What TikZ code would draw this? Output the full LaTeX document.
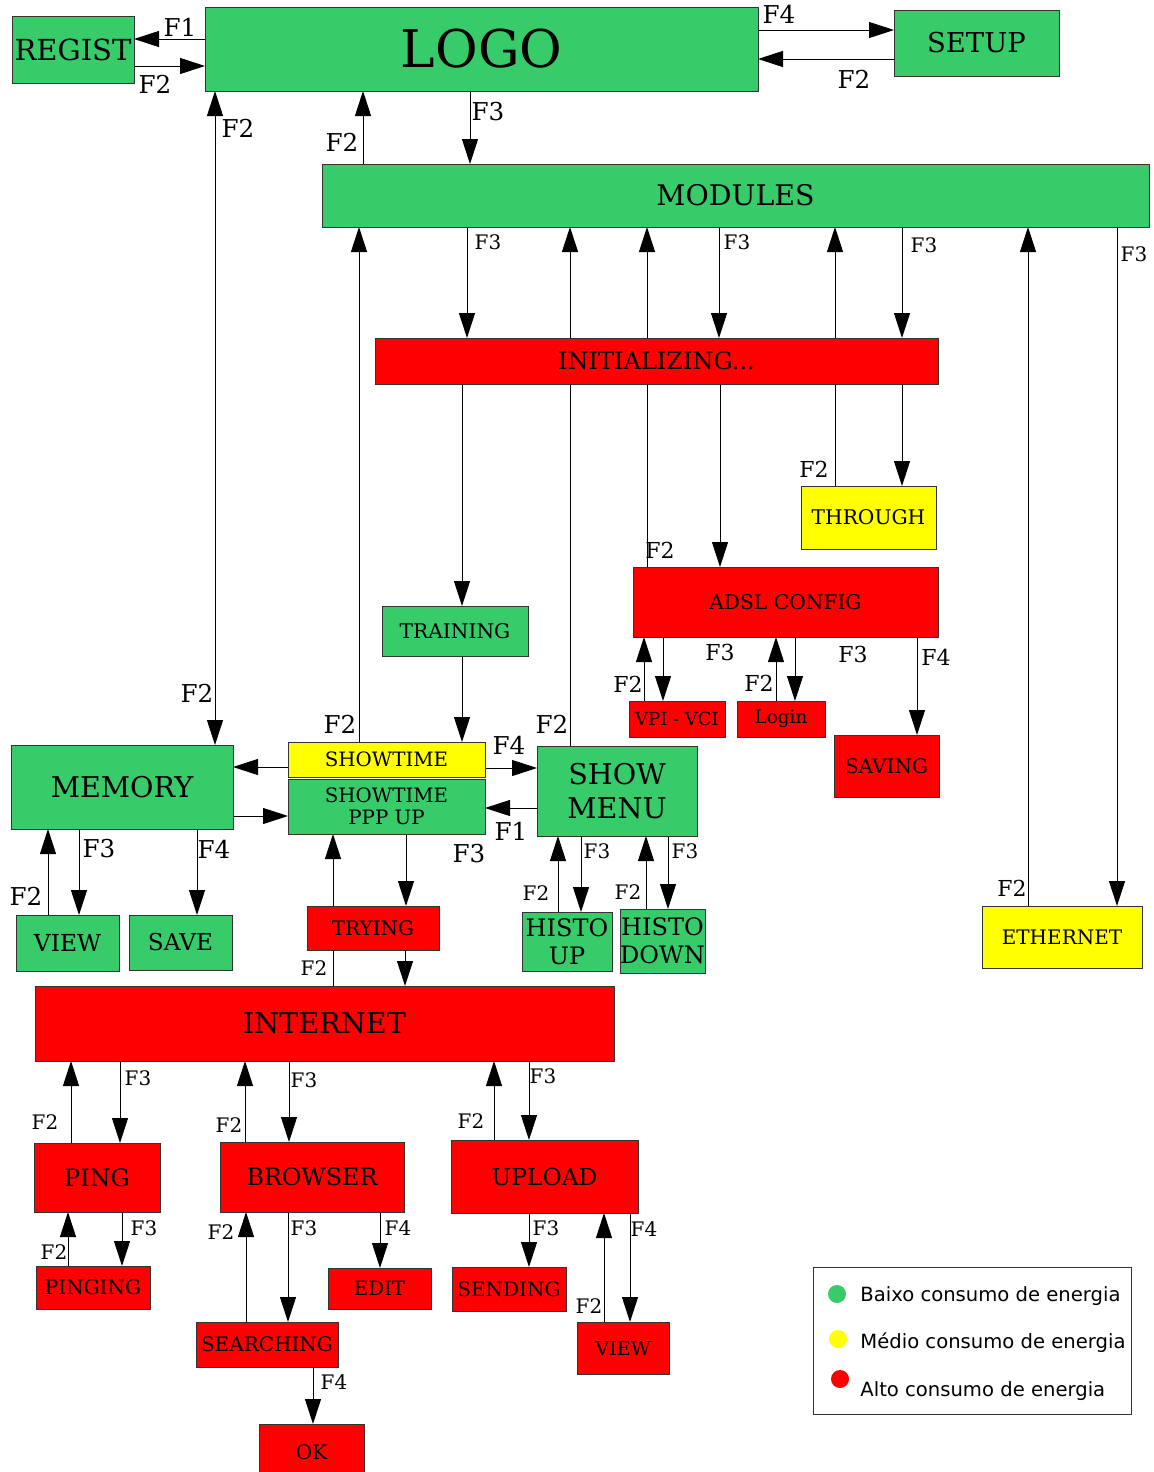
\documentclass[tikz,border=0pt]{standalone}
\usepackage{fontspec}
\setmainfont{DejaVu Serif}
\newfontfamily\legfont{DejaVu Sans}
\usetikzlibrary{arrows.meta,backgrounds}
\definecolor{gr}{RGB}{55,203,106}
\definecolor{yel}{RGB}{255,255,0}
\definecolor{rd}{RGB}{255,0,0}
\newcommand\fsz[1]{\fontsize{#1}{1.2\dimexpr #1pt\relax}\selectfont}
\newcommand\mkbox[7]{%
  \pgfmathsetmacro\bxw{(#4-#2)*0.5}%
  \pgfmathsetmacro\bxh{(#5-#3)*0.5}%
  \node[box,#6,minimum width=\bxw pt,minimum height=\bxh pt] (#1) at ({(#2+#4)/2},{(#3+#5)/2}) {#7};}
\begin{document}
\begin{tikzpicture}[x=0.5pt,y=-0.5pt,
  box/.style={draw=black!80,line width=0.5pt,inner sep=0pt,outer sep=0pt,align=center},
  g/.style={fill=gr}, yw/.style={fill=yel}, r/.style={fill=rd},
  arr/.style={-{Triangle[length=12.5pt,width=8pt]},line width=0.5pt},
  barr/.style={{Triangle[length=12.5pt,width=8pt]}-{Triangle[length=12.5pt,width=8pt]},line width=0.5pt},
  lb/.style={inner sep=0pt,font=\fsz{10}},
  lm/.style={inner sep=0pt,font=\fsz{11}},
  lg/.style={inner sep=0pt,font=\fsz{12.3}}]
\useasboundingbox (0,0) rectangle (1153,1472);
% nodes
\mkbox{REG}{12}{16}{134}{83}{g,font=\fsz{14.5}}{REGIST}
\mkbox{LOGO}{205}{7}{758}{91}{g,font=\fsz{26}}{LOGO}
\mkbox{SET}{894}{10}{1059}{76}{g,font=\fsz{13.7}}{SETUP}
\mkbox{MOD}{322}{164}{1149}{227}{g,font=\fsz{14.2}}{MODULES}
\mkbox{INIT}{375}{338}{938}{384}{r,font=\fsz{12}}{INITIALIZING...}
\mkbox{THR}{801}{486}{936}{549}{yw,font=\fsz{10.1}}{THROUGH}
\mkbox{ADSL}{633}{567}{938}{637}{r,font=\fsz{10.1}}{ADSL CONFIG}
\mkbox{VPI}{629}{701}{725}{737}{r,font=\fsz{9}}{VPI - VCI}
\mkbox{LOGIN}{737}{701}{825}{737}{r,font=\fsz{9.2}}{Login}
\mkbox{SAV}{834}{735}{939}{797}{r,font=\fsz{10}}{SAVING}
\mkbox{TRN}{382}{606}{528}{656}{g,font=\fsz{10.1}}{TRAINING}
\mkbox{ST}{288}{742}{485}{777}{yw,font=\fsz{9.9}}{SHOWTIME}
\mkbox{STP}{288}{779}{485}{834}{g,font=\fontsize{9.9}{11}\selectfont}{SHOWTIME\\PPP UP}
\mkbox{SM}{537}{746}{697}{836}{g,font=\fontsize{14.3}{17}\selectfont}{SHOW\\MENU}
\mkbox{MEM}{11}{745}{233}{829}{g,font=\fsz{14.3}}{MEMORY}
\mkbox{VWA}{16}{915}{119}{971}{g,font=\fsz{11.7}}{VIEW}
\mkbox{SV}{129}{915}{232}{970}{g,font=\fsz{11.6}}{SAVE}
\mkbox{TRY}{307}{906}{439}{950}{r,font=\fsz{10}}{TRYING}
\mkbox{HU}{522}{912}{612}{971}{g,font=\fontsize{12}{14}\selectfont}{HISTO\\UP}
\mkbox{HD}{620}{909}{705}{973}{g,font=\fontsize{12}{14}\selectfont}{HISTO\\DOWN}
\mkbox{ETH}{982}{906}{1142}{968}{yw,font=\fsz{10}}{ETHERNET}
\mkbox{NET}{35}{986}{614}{1061}{r,font=\fsz{14.3}}{INTERNET}
\mkbox{PING}{34}{1143}{160}{1212}{r,font=\fsz{12}}{PING}
\mkbox{BRW}{220}{1142}{404}{1212}{r,font=\fsz{11.9}}{BROWSER}
\mkbox{UPL}{451}{1140}{638}{1213}{r,font=\fsz{11.7}}{UPLOAD}
\mkbox{PGG}{36}{1266}{150}{1309}{r,font=\fsz{10}}{PINGING}
\mkbox{EDIT}{328}{1268}{431}{1309}{r,font=\fsz{9.9}}{EDIT}
\mkbox{SND}{452}{1267}{566}{1311}{r,font=\fsz{10}}{SENDING}
\mkbox{SRCH}{196}{1322}{338}{1367}{r,font=\fsz{10}}{SEARCHING}
\mkbox{VWB}{577}{1322}{669}{1374}{r,font=\fsz{9.6}}{VIEW}
\mkbox{OK}{259}{1424}{364}{1480}{r,font=\fsz{10}}{OK}
% legend
\mkbox{LEG}{813}{1267}{1131}{1414}{fill=white}{}
\node[circle,fill=gr,minimum size=9pt,inner sep=0pt] (c1) at (837,1294) {};
\node[circle,fill=yel,minimum size=9pt,inner sep=0pt] (c2) at (838,1339) {};
\node[circle,fill=rd,minimum size=9pt,inner sep=0pt] (c3) at (840,1379) {};
\node[anchor=west,inner sep=0pt,font=\legfont\fsz{9.8}] (t1) at (860,1296) {Baixo consumo de energia};
\node[anchor=west,inner sep=0pt,font=\legfont\fsz{9.8}] (t2) at (860,1343) {Médio consumo de energia};
\node[anchor=west,inner sep=0pt,font=\legfont\fsz{9.8}] (t3) at (860,1391) {Alto consumo de energia};
% labels
\node[lg] (l1) at (180,27) {F1};
\node[lg] (l2) at (155,84) {F2};
\node[lg] (l3) at (779,14) {F4};
\node[lg] (l4) at (854,79) {F2};
\node[lg] (l5) at (238,128) {F2};
\node[lg] (l6) at (342,142) {F2};
\node[lg] (l7) at (488,112) {F3};
\node[lb] (l8) at (488,242) {F3};
\node[lb] (l9) at (737,242) {F3};
\node[lb] (l10) at (924,245) {F3};
\node[lb] (l11) at (1134,254) {F3};
\node[lm] (l12) at (814,469) {F2};
\node[lm] (l13) at (660,550) {F2};
\node[lm] (l14) at (720,652) {F3};
\node[lm] (l15) at (853,654) {F3};
\node[lm] (l16) at (936,657) {F4};
\node[lm] (l17) at (628,684) {F2};
\node[lm] (l18) at (759,683) {F2};
\node[lg] (l19) at (197,693) {F2};
\node[lg] (l20) at (340,724) {F2};
\node[lg] (l21) at (552,724) {F2};
\node[lg] (l22) at (509,745) {F4};
\node[lg] (l23) at (511,831) {F1};
\node[lg] (l24) at (469,854) {F3};
\node[lg] (l25) at (99,849) {F3};
\node[lg] (l26) at (214,849) {F4};
\node[lg] (l27) at (26,896) {F2};
\node[lb] (l28) at (597,851) {F3};
\node[lb] (l29) at (685,851) {F3};
\node[lb] (l30) at (536,893) {F2};
\node[lb] (l31) at (628,892) {F2};
\node[lm] (l32) at (1012,888) {F2};
\node[lb] (l33) at (314,968) {F2};
\node[lb] (l34) at (138,1078) {F3};
\node[lb] (l35) at (45,1122) {F2};
\node[lb] (l36) at (229,1125) {F2};
\node[lb] (l37) at (304,1080) {F3};
\node[lb] (l38) at (471,1121) {F2};
\node[lb] (l39) at (543,1076) {F3};
\node[lb] (l40) at (54,1252) {F2};
\node[lb] (l41) at (144,1228) {F3};
\node[lb] (l42) at (221,1232) {F2};
\node[lb] (l43) at (304,1228) {F3};
\node[lb] (l44) at (398,1228) {F4};
\node[lb] (l45) at (546,1228) {F3};
\node[lb] (l46) at (589,1306) {F2};
\node[lb] (l47) at (644,1229) {F4};
\node[lb] (l48) at (334,1382) {F4};
% connectors
\begin{scope}[on background layer]
\draw[arr] (LOGO.west |- 0,39) -- (REG.east |- 0,39);
\draw[arr] (REG.east |- 0,66) -- (LOGO.west |- 0,66);
\draw[arr] (LOGO.east |- 0,30) -- (SET.west |- 0,30);
\draw[arr] (SET.west |- 0,59) -- (LOGO.east |- 0,59);
\draw[arr] (ST.west |- 0,767) -- (MEM.east |- 0,767);
\draw[arr] (ST.east |- 0,768) -- (SM.west |- 0,768);
\draw[arr] (MEM.east |- 0,816) -- (STP.west |- 0,816);
\draw[arr] (SM.west |- 0,808) -- (STP.east |- 0,808);
\draw[barr] (LOGO.south -| 215,0) -- (MEM.north -| 215,0);
\draw[arr] (MOD.north -| 363,0) -- (LOGO.south -| 363,0);
\draw[arr] (LOGO.south -| 470,0) -- (MOD.north -| 470,0);
\draw[arr] (ST.north -| 359,0) -- (MOD.south -| 359,0);
\draw[arr] (MOD.south -| 467,0) -- (INIT.north -| 467,0);
\draw[arr] (SM.north -| 570,0) -- (MOD.south -| 570,0);
\draw[arr] (ADSL.north -| 647,0) -- (MOD.south -| 647,0);
\draw[arr] (MOD.south -| 719,0) -- (INIT.north -| 719,0);
\draw[arr] (THR.north -| 835,0) -- (MOD.south -| 835,0);
\draw[arr] (MOD.south -| 902,0) -- (INIT.north -| 902,0);
\draw[arr] (ETH.north -| 1028,0) -- (MOD.south -| 1028,0);
\draw[arr] (MOD.south -| 1117,0) -- (ETH.north -| 1117,0);
\draw[arr] (INIT.south -| 462,0) -- (TRN.north -| 462,0);
\draw[arr] (TRN.south -| 462,0) -- (ST.north -| 462,0);
\draw[arr] (INIT.south -| 720,0) -- (ADSL.north -| 720,0);
\draw[arr] (INIT.south -| 902,0) -- (THR.north -| 902,0);
\draw[arr] (VPI.north -| 644,0) -- (ADSL.south -| 644,0);
\draw[arr] (ADSL.south -| 663,0) -- (VPI.north -| 663,0);
\draw[arr] (LOGIN.north -| 776,0) -- (ADSL.south -| 776,0);
\draw[arr] (ADSL.south -| 795,0) -- (LOGIN.north -| 795,0);
\draw[arr] (ADSL.south -| 917,0) -- (SAV.north -| 917,0);
\draw[arr] (STP.south -| 406,0) -- (TRY.north -| 406,0);
\draw[arr] (NET.north -| 333,0) -- (STP.south -| 333,0);
\draw[arr] (TRY.south -| 405,0) -- (NET.north -| 405,0);
\draw[arr] (HU.north -| 558,0) -- (SM.south -| 558,0);
\draw[arr] (SM.south -| 581,0) -- (HU.north -| 581,0);
\draw[arr] (HD.north -| 646,0) -- (SM.south -| 646,0);
\draw[arr] (SM.south -| 668,0) -- (HD.north -| 668,0);
\draw[arr] (VWA.north -| 48,0) -- (MEM.south -| 48,0);
\draw[arr] (MEM.south -| 79,0) -- (VWA.north -| 79,0);
\draw[arr] (MEM.south -| 197,0) -- (SV.north -| 197,0);
\draw[arr] (PING.north -| 71,0) -- (NET.south -| 71,0);
\draw[arr] (NET.south -| 120,0) -- (PING.north -| 120,0);
\draw[arr] (BRW.north -| 245,0) -- (NET.south -| 245,0);
\draw[arr] (NET.south -| 289,0) -- (BRW.north -| 289,0);
\draw[arr] (UPL.north -| 494,0) -- (NET.south -| 494,0);
\draw[arr] (NET.south -| 529,0) -- (UPL.north -| 529,0);
\draw[arr] (PGG.north -| 68,0) -- (PING.south -| 68,0);
\draw[arr] (PING.south -| 122,0) -- (PGG.north -| 122,0);
\draw[arr] (SRCH.north -| 246,0) -- (BRW.south -| 246,0);
\draw[arr] (BRW.south -| 288,0) -- (SRCH.north -| 288,0);
\draw[arr] (BRW.south -| 380,0) -- (EDIT.north -| 380,0);
\draw[arr] (UPL.south -| 529,0) -- (SND.north -| 529,0);
\draw[arr] (VWB.north -| 604,0) -- (UPL.south -| 604,0);
\draw[arr] (UPL.south -| 630,0) -- (VWB.north -| 630,0);
\draw[arr] (SRCH.south -| 313,0) -- (OK.north -| 313,0);
\end{scope}
\end{tikzpicture}
\end{document}
